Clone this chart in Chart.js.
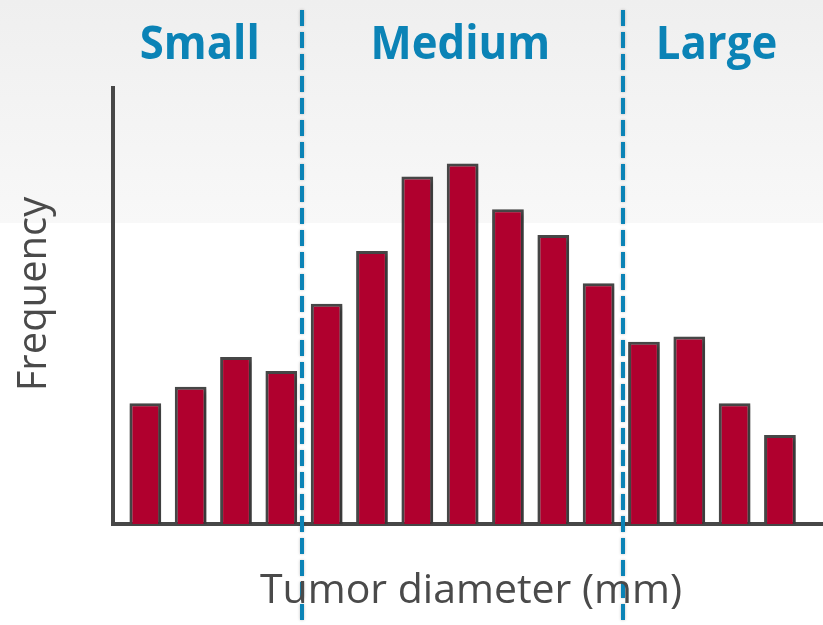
<!DOCTYPE html>
<html>
<head>
<meta charset="utf-8">
<script src="https://cdn.jsdelivr.net/npm/chart.js@4/dist/chart.umd.min.js"></script>
<style>
  html, body { margin: 0; padding: 0; background: #fff; }
  #wrap { width: 823px; height: 625px; position: relative; }
</style>
</head>
<body>
<div id="wrap"><canvas id="chart"></canvas></div>
<script>
// tumour size bins (mm), 15 bins
const bins = [1, 2, 3, 4, 5, 6, 7, 8, 9, 10, 11, 12, 13, 14, 15]
const frequency = [27.7, 31.5, 38.3, 35.1, 50.5, 62.6, 79.7, 82.7, 72.2, 66.3, 55.2, 41.8, 43.0, 27.7, 20.4]
// size classes and where they split
const groups = ['Small', 'Medium', 'Large']
const groupCentres = [2.2, 7.95, 13.6]
const dividers = [4.46, 11.53]

const blue = '#0b83b6'
const grey = '#474747'

const decorations = {
  id: 'decorations',
  beforeDraw (chart) {
    const { ctx, width } = chart
    ctx.save()
    const g = ctx.createLinearGradient(0, 0, 0, 223)
    g.addColorStop(0, '#efefef')
    g.addColorStop(1, '#f8f8f8')
    ctx.fillStyle = g
    ctx.fillRect(0, 0, width, 223)
    ctx.restore()
  },
  beforeDatasetsDraw (chart) {
    const ctx = chart.ctx
    ctx.save()
    ctx.shadowColor = 'rgba(0,0,0,0.3)'
    ctx.shadowBlur = 4
    ctx.shadowOffsetX = 2
    ctx.shadowOffsetY = 2
  },
  afterDatasetsDraw (chart) {
    chart.ctx.restore()
  },
  afterDraw (chart) {
    const { ctx, scales: { x }, height } = chart
    ctx.save()
    // dashed split lines
    ctx.strokeStyle = blue
    ctx.lineWidth = 4
    ctx.setLineDash([16, 6])
    ctx.shadowColor = 'rgba(0,0,0,0.25)'
    ctx.shadowBlur = 3
    dividers.forEach(d => {
      const px = Math.round(x.getPixelForValue(d))
      ctx.beginPath()
      ctx.moveTo(px, 10)
      ctx.lineTo(px, height)
      ctx.stroke()
    })
    ctx.setLineDash([])
    ctx.shadowColor = 'transparent'

    // group labels
    ctx.fillStyle = blue
    ctx.font = 'bold 47px "Open Sans"'
    ctx.textAlign = 'center'
    ctx.textBaseline = 'alphabetic'
    groups.forEach((name, i) => {
      const px = x.getPixelForValue(groupCentres[i])
      ctx.save()
      ctx.translate(px, 59)
      ctx.scale(0.93, 1)
      ctx.fillText(name, 0, 0)
      ctx.restore()
    })

    // axis titles
    ctx.fillStyle = '#4a4a4a'
    ctx.font = '41px "Open Sans"'
    ctx.fillText('Tumor diameter (mm)', 471, 603)
    ctx.font = '40px "Open Sans"'
    ctx.save()
    ctx.translate(46, 294)
    ctx.rotate(-Math.PI / 2)
    ctx.fillText('Frequency', 0, 0)
    ctx.restore()
    ctx.restore()
  }
}

const ctx = document.getElementById('chart')
const chart = new Chart(ctx, {
  type: 'bar',
  data: {
    datasets: [{
      label: 'Frequency',
      data: bins.map((b, i) => ({ x: b, y: frequency[i] })),
      backgroundColor: '#b0002e',
      borderColor: grey,
      borderWidth: 3,
      barPercentage: 0.7,
      categoryPercentage: 1
    }]
  },
  options: {
    responsive: true,
    maintainAspectRatio: false,
    animation: false,
    layout: {
      padding: { left: 113, top: 88, right: 0, bottom: 101 }
    },
    scales: {
      x: {
        type: 'linear',
        offset: false,
        min: 0.287,
        max: 15.95,
        grid: { display: false, drawTicks: false },
        ticks: { display: false },
        border: { color: grey, width: 4 }
      },
      y: {
        min: 0,
        max: 100,
        grid: { display: false, drawTicks: false },
        ticks: { display: false },
        border: { color: grey, width: 4 }
      }
    },
    plugins: {
      legend: { display: false },
      tooltip: { enabled: false }
    }
  },
  plugins: [decorations]
})
</script>
</body>
</html>
